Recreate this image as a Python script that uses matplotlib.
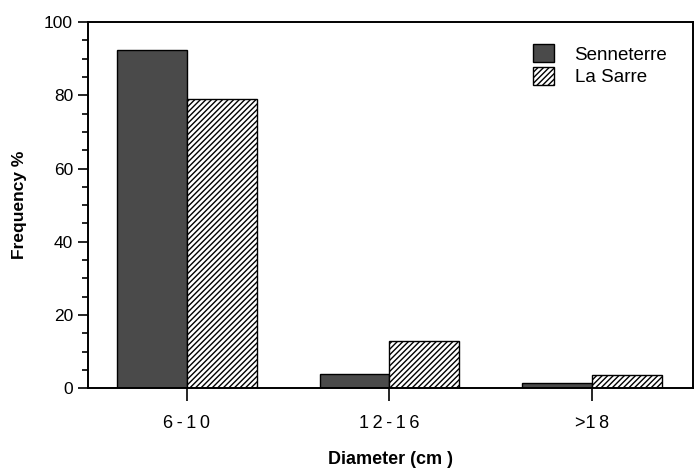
import numpy as np
import matplotlib
matplotlib.use("Agg")
import matplotlib.pyplot as plt
from matplotlib.ticker import MultipleLocator

plt.rcParams["font.family"] = ["Liberation Sans", "DejaVu Sans"]
plt.rcParams["hatch.linewidth"] = 1.0

categories = ["6\u2009-\u20091\u20090", "1\u20092\u2009-\u20091\u20096", ">1\u20098"]
senneterre = [92.5, 3.8, 1.5]
la_sarre = [79, 13, 3.5]

fig = plt.figure(figsize=(6.96, 4.70), dpi=100)
ax = fig.add_axes([0.126, 0.174, 0.870, 0.779])

x = np.arange(len(categories))
w = 0.345
ax.bar(x, senneterre, width=-w, align="edge", color="#4a4a4a",
       edgecolor="black", linewidth=1.0, label="Senneterre")
ax.bar(x, la_sarre, width=w, align="edge", color="white",
       edgecolor="black", hatch="//////", linewidth=1.0, label="La Sarre")

ax.set_xlim(-0.49, 2.5)
ax.set_ylim(0, 100)
ax.set_xticks(x)
ax.set_xticklabels(categories, fontsize=13)
ax.yaxis.set_major_locator(MultipleLocator(20))
ax.yaxis.set_minor_locator(MultipleLocator(5))
ax.tick_params(axis="y", which="major", length=7, width=1.2, labelsize=12.5, direction="out")
ax.tick_params(axis="y", which="minor", length=4, width=1.2, direction="out")
ax.tick_params(axis="x", length=9, width=1.2, pad=10, direction="out")
for s in ax.spines.values():
    s.set_linewidth(1.4)

ax.set_ylabel("Frequency %", fontsize=12.5, fontweight="bold", labelpad=12)
ax.set_xlabel("Diameter (cm )", fontsize=13, fontweight="bold", labelpad=14)

ax.legend(loc="upper right", bbox_to_anchor=(0.985, 0.985), frameon=False,
          fontsize=13.5, handlelength=1.1, handleheight=1.1, handletextpad=1.1,
          labelspacing=0.15)

fig.savefig("out.png", dpi=100, facecolor="white")
